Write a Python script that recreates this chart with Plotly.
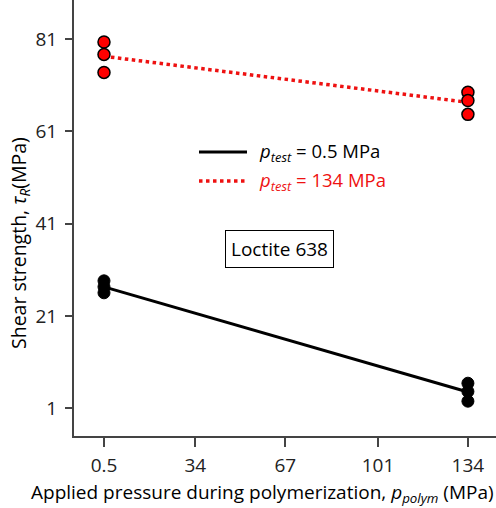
import plotly.graph_objects as go

# Data
pressure_polym = [0.5, 134]
red_at_05 = [80.4, 77.7, 73.8]
red_at_134 = [69.5, 67.7, 64.7]
black_at_05 = [28.6, 27.3, 26.0]
black_at_134 = [6.4, 4.6, 2.5]
red_line = [77.3, 67.3]
black_line = [27.3, 4.5]
x_ticks = [0.5, 34, 67, 101, 134]
y_ticks = [1, 21, 41, 61, 81]
legend_labels = ["<i>p</i><sub><i>test</i></sub> = 0.5 MPa",
                 "<i>p</i><sub><i>test</i></sub> = 134 MPa"]

FONT = "Open Sans"
RED = "#ee1111"
PW, PH, L, T = 422, 436, 74, 0


def px(x):
    return (x - L) / PW


def py(y):
    return 1 - (y - T) / PH


fig = go.Figure()

fig.add_trace(go.Scatter(
    x=pressure_polym, y=black_line, mode="lines",
    line=dict(color="black", width=3), showlegend=False,
))
fig.add_trace(go.Scatter(
    x=pressure_polym, y=red_line, mode="lines",
    line=dict(color=RED, width=3.5, dash="dot"), showlegend=False,
))

bx = [pressure_polym[0]] * 3 + [pressure_polym[1]] * 3
fig.add_trace(go.Scatter(
    x=bx, y=black_at_05 + black_at_134, mode="markers",
    marker=dict(color="black", size=12, line=dict(color="black", width=1)),
    showlegend=False,
))
fig.add_trace(go.Scatter(
    x=bx, y=red_at_05 + red_at_134, mode="markers",
    marker=dict(color="#ff0000", size=12, line=dict(color="black", width=1.5)),
    showlegend=False,
))

# manual legend
fig.add_shape(type="line", xref="paper", yref="paper",
              x0=px(199), x1=px(247), y0=py(152), y1=py(152),
              line=dict(color="black", width=3))
fig.add_shape(type="line", xref="paper", yref="paper",
              x0=px(199), x1=px(247), y0=py(181), y1=py(181),
              line=dict(color=RED, width=3.5, dash="dot"))
fig.add_annotation(x=px(257), y=py(152), xref="paper", yref="paper",
                   xanchor="left", yanchor="middle", showarrow=False,
                   text=legend_labels[0],
                   font=dict(family=FONT, size=18.5, color="black"))
fig.add_annotation(x=px(257), y=py(181), xref="paper", yref="paper",
                   xanchor="left", yanchor="middle", showarrow=False,
                   text=legend_labels[1],
                   font=dict(family=FONT, size=18.5, color=RED))

fig.add_annotation(
    x=65, y=35.5, xref="x", yref="y", text="Loctite 638", showarrow=False,
    xanchor="center", yanchor="middle",
    font=dict(family=FONT, size=19, color="black"),
    bordercolor="black", borderwidth=1, borderpad=5, bgcolor="white",
)
fig.add_annotation(
    x=px(19), y=py(243), xref="paper", yref="paper", textangle=-90,
    xanchor="center", yanchor="middle",
    text="Shear strength, <i>τ</i><sub><i>R</i></sub>(MPa)", showarrow=False,
    font=dict(family=FONT, size=19.5, color="black"),
)
fig.add_annotation(
    x=px(262), y=py(493), xref="paper", yref="paper",
    xanchor="center", yanchor="middle",
    text="Applied pressure during polymerization, <i>p</i><sub><i>polym</i></sub> (MPa)",
    showarrow=False, font=dict(family=FONT, size=19, color="black"),
)

fig.update_layout(
    width=496, height=508,
    margin=dict(l=L, r=0, t=T, b=72),
    paper_bgcolor="white", plot_bgcolor="white",
    font=dict(family=FONT, size=19, color="#222"),
    showlegend=False,
    xaxis=dict(
        range=[-10.5, 144.3], tickvals=x_ticks, ticktext=[str(v) for v in x_ticks],
        showgrid=False, zeroline=False, showline=True, linecolor="#444", linewidth=2,
        ticks="outside", ticklen=9, tickwidth=2, tickcolor="#444",
        tickfont=dict(family=FONT, size=19, color="#222"), ticklabelstandoff=2,
    ),
    yaxis=dict(
        range=[-5.05, 89.5], tickvals=y_ticks,
        showgrid=False, zeroline=False, showline=True, linecolor="#444", linewidth=2,
        ticks="outside", ticklen=7, tickwidth=2, tickcolor="#444",
        tickfont=dict(family=FONT, size=19, color="#222"), ticklabelstandoff=4,
    ),
)

fig.write_html("out.html")
